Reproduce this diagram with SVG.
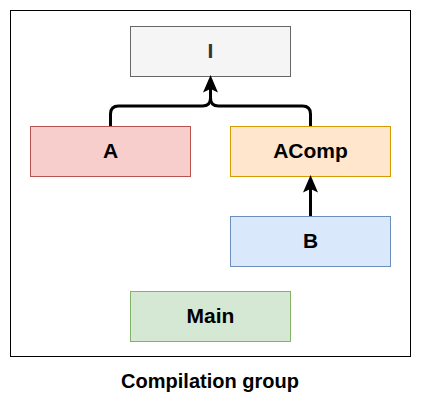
<svg xmlns="http://www.w3.org/2000/svg" width="421" height="407" viewBox="0 0 421 407">
<style>
.lbl{font-family:"Liberation Sans",Arial,sans-serif;font-size:21px;font-weight:bold;text-anchor:middle;dominant-baseline:central}
.cap{font-size:20px}
.conn{fill:none;stroke:#000;stroke-width:3;stroke-linejoin:round}
.head{fill:#000;stroke:#000;stroke-width:1.5}
</style>
<rect width="421" height="407" fill="#fff"/>
<g id="group">
<rect x="10.5" y="10.5" width="400" height="346" fill="#fff" stroke="#000" stroke-width="1"/>
<text class="lbl cap" x="210" y="381">Compilation group</text>
</g>
<g id="node-I">
<rect x="130.5" y="26.5" width="160" height="50" fill="#f5f5f5" stroke="#666"/>
<text class="lbl" x="210.5" y="50.5" fill="#333">I</text>
</g>
<g id="node-A">
<rect x="30.5" y="126.5" width="160" height="50" fill="#f8cecc" stroke="#b85450"/>
<text class="lbl" x="110.5" y="150.5">A</text>
</g>
<g id="node-AComp">
<rect x="230.5" y="126.5" width="160" height="50" fill="#ffe6cc" stroke="#d79b00"/>
<text class="lbl" x="310.5" y="150.5">AComp</text>
</g>
<g id="node-B">
<rect x="230.5" y="216.5" width="160" height="50" fill="#dae8fc" stroke="#6c8ebf"/>
<text class="lbl" x="310.5" y="240.5">B</text>
</g>
<g id="node-Main">
<rect x="130.5" y="291.5" width="160" height="50" fill="#d5e8d4" stroke="#82b366"/>
<text class="lbl" x="210.5" y="315.5">Main</text>
</g>
<g id="connectors">
<path class="conn" d="M110.5,126 V114 Q110.5,106 118.5,106 H202.5 Q210.5,106 210.5,98 V88"/>
<path class="conn" d="M310.5,126 V114 Q310.5,106 302.5,106 H218.5 Q210.5,106 210.5,98 V88"/>
<path class="head" d="M210.5,77 L204.5,91 L210.5,88 L216.5,91 Z"/>
<path class="conn" d="M310.5,216 V188"/>
<path class="head" d="M310.5,177 L304.5,191 L310.5,188 L316.5,191 Z"/>
</g>
</svg>
